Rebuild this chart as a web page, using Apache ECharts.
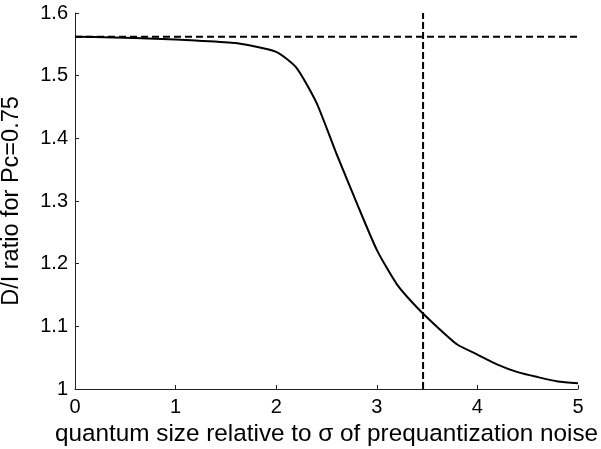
<!DOCTYPE html>
<html>
<head>
<meta charset="utf-8">
<script src="https://cdn.jsdelivr.net/npm/echarts@6/dist/echarts.min.js"></script>
<style>
html,body{margin:0;padding:0;background:#fff;}
#c{width:601px;height:449px;}
</style>
</head>
<body>
<div id="c"></div>
<script>
// Data
const xValues = [0, 0.38, 0.8, 1.2, 1.6, 2.0, 2.2, 2.4, 2.6, 2.8, 3.0, 3.2, 3.4, 3.6, 3.8, 4.0, 4.2, 4.4, 4.6, 4.8, 5.0];
const ratioValues = [1.562, 1.561, 1.559, 1.556, 1.552, 1.538, 1.513, 1.457, 1.375, 1.297, 1.222, 1.167, 1.130, 1.099, 1.071, 1.055, 1.039, 1.027, 1.019, 1.012, 1.009];
const asymptoteX = [0, 5];
const asymptoteY = [1.562, 1.562];
const markerX = [3.46, 3.46];
const markerY = [1.0, 1.6];
const xTicks = [0, 1, 2, 3, 4, 5];
const yTicks = [1, 1.1, 1.2, 1.3, 1.4, 1.5, 1.6];
const xName = 'quantum size relative to σ of prequantization noise';
const yName = 'D/I ratio for Pc=0.75';

const zip = (a, b) => a.map((v, i) => [v, b[i]]);
const font = '"Liberation Sans", Arial, sans-serif';

const chart = echarts.init(document.getElementById('c'), null, {renderer: 'canvas'});
chart.setOption({
  animation: false,
  backgroundColor: '#fff',
  grid: {left: 75, right: 23, top: 13, bottom: 60, containLabel: false, outerBoundsMode: 'none'},
  xAxis: {
    type: 'value', min: 0, max: 5, interval: 1,
    name: xName, nameLocation: 'middle', nameGap: 30,
    nameTextStyle: {fontFamily: font, fontSize: 24.3, color: '#000'},
    axisLine: {show: true, onZero: false, lineStyle: {color: '#222', width: 1}},
    axisTick: {show: true, inside: true, length: 4, lineStyle: {color: '#222'}},
    axisLabel: {fontFamily: font, fontSize: 20, color: '#000', margin: 8,
      formatter: v => xTicks.includes(v) ? String(v) : ''},
    splitLine: {show: false}
  },
  yAxis: {
    type: 'value', min: 1, max: 1.6, interval: 0.1,
    name: yName, nameLocation: 'middle', nameGap: 51, nameRotate: 90,
    nameTextStyle: {fontFamily: font, fontSize: 23.5, color: '#000'},
    axisLine: {show: true, onZero: false, lineStyle: {color: '#222', width: 1}},
    axisTick: {show: true, inside: true, length: 4, lineStyle: {color: '#222'}},
    axisLabel: {fontFamily: font, fontSize: 20, color: '#000', margin: 7,
      formatter: v => {
        const r = Math.round(v * 10) / 10;
        return yTicks.includes(r) ? (r === 1 ? '1' : r.toFixed(1)) : '';
      }},
    splitLine: {show: false}
  },
  series: [
    {
      type: 'line', data: zip(asymptoteX, asymptoteY), symbol: 'none',
      lineStyle: {color: '#000', width: 2, type: [7, 4]}, z: 2
    },
    {
      type: 'line', data: zip(markerX, markerY), symbol: 'none',
      lineStyle: {color: '#000', width: 2, type: [7, 3]}, z: 2
    },
    {
      type: 'line', data: zip(xValues, ratioValues), symbol: 'none', smooth: 0.2,
      lineStyle: {color: '#000', width: 2}, z: 3
    }
  ]
});
</script>
</body>
</html>
